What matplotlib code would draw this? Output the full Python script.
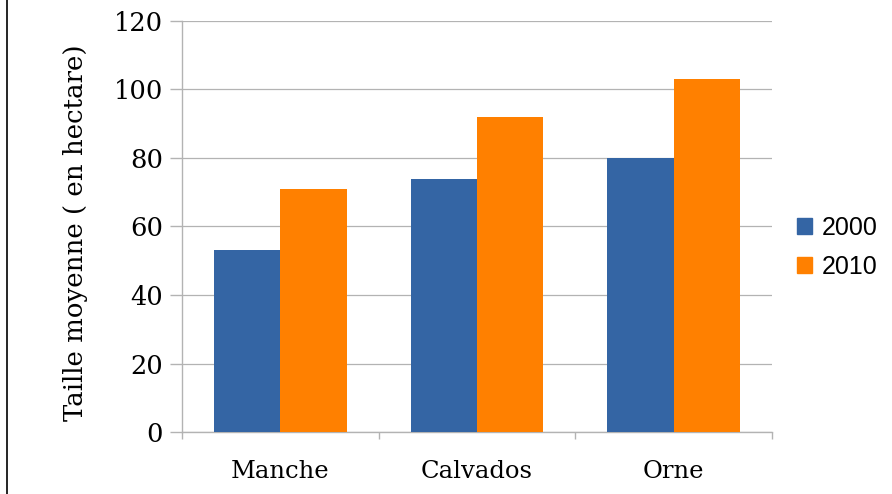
import numpy as np
import matplotlib
matplotlib.use("Agg")
import matplotlib.pyplot as plt
from matplotlib.lines import Line2D
from matplotlib.patches import Patch

categories = ["Manche", "Calvados", "Orne"]
values_2000 = [53, 74, 80]
values_2010 = [71, 92, 103]
series_labels = ["2000", "2010"]
y_ticks = [0, 20, 40, 60, 80, 100, 120]

BLUE = "#3465a4"
ORANGE = "#ff8000"
GRID = "#b3b3b3"

fig = plt.figure(figsize=(8.92, 4.94), dpi=100)
ax = fig.add_axes([0.204, 0.1255, 0.6615, 0.832])

x = np.arange(len(categories))
w = 0.338
ax.bar(x - w / 2, values_2000, width=w, color=BLUE, zorder=3)
ax.bar(x + w / 2, values_2010, width=w, color=ORANGE, zorder=3)

ax.set_xlim(-0.5, len(categories) - 0.5)
ax.set_ylim(0, 120)
ax.set_yticks(y_ticks)
ax.set_yticklabels([str(v) for v in y_ticks], family="DejaVu Serif", fontsize=18.5)

# category labels centred, tick marks at the boundaries
ax.set_xticks(x)
ax.set_xticklabels(categories, family="DejaVu Serif", fontsize=17.5)
ax.tick_params(axis="x", length=0, pad=20)
ax.set_xticks(np.arange(len(categories) + 1) - 0.5, minor=True)
ax.tick_params(axis="x", which="minor", length=5, color=GRID, width=1.0)
ax.tick_params(axis="y", length=8.6, color=GRID, width=1.0, pad=5)

ax.yaxis.grid(True, color=GRID, linewidth=0.9, zorder=0)
for side in ["top", "right"]:
    ax.spines[side].set_visible(False)
for side in ["left", "bottom"]:
    ax.spines[side].set_color(GRID)
    ax.spines[side].set_linewidth(1.0)

ax.set_ylabel("Taille moyenne ( en hectare)", family="DejaVu Serif", fontsize=18.7)
ax.yaxis.set_label_coords(-0.16, 0.485)

handles = [Patch(color=BLUE), Patch(color=ORANGE)]
fig.legend(handles, series_labels, loc="center left", bbox_to_anchor=(0.868, 0.5),
           frameon=False, prop={"family": "Liberation Sans", "size": 18},
           handlelength=0.6, handleheight=0.6, handletextpad=0.4, labelspacing=0.6)

# left border line
fig.add_artist(Line2D([0.008, 0.008], [0, 1], color="black", linewidth=1.2,
                      transform=fig.transFigure))

fig.savefig("out.png", dpi=100)
